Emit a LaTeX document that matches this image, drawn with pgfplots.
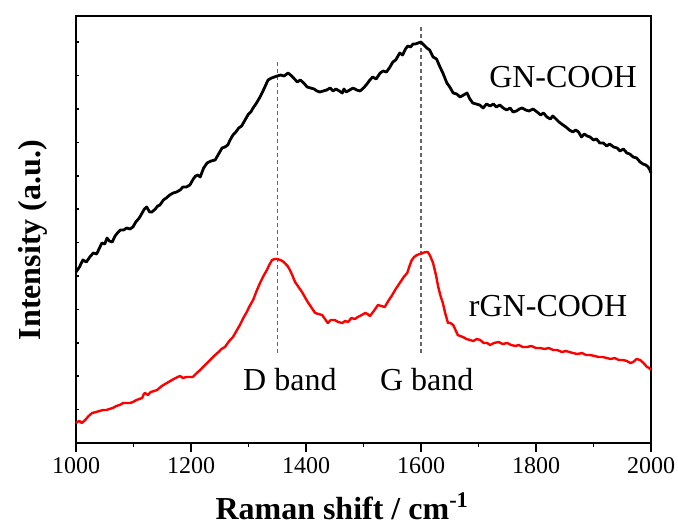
\documentclass[border=0pt]{standalone}
\usepackage{fontspec}
\setmainfont{Liberation Serif}
\usepackage{pgfplots}
\pgfplotsset{compat=1.18}

\begin{document}
\begin{tikzpicture}
\path[use as bounding box] (-38pt,-43pt) rectangle (301pt,221.5pt);
\begin{axis}[
  at={(0,0)}, anchor=south west,
  scale only axis, width=287.5pt, height=213.5pt,
  xmin=1000, xmax=2000, ymin=0, ymax=427,
  axis line style={line width=0.9pt},
  xtick={1000,1200,1400,1600,1800,2000},
  ytick=\empty,
  xtick pos=bottom, ytick pos=left,
  tick style={line width=0.8pt, black},
  xtick align=outside,
  major tick length=4.5pt,
  extra x ticks={1100,1300,1500,1700,1900},
  extra x tick labels={},
  extra x tick style={major tick length=2pt, xtick align=outside},
  extra y ticks={33.4,66.8,100.2,133.6,167,200.4,233.8,267.2,300.6,334,367.4,400.8},
  extra y tick labels={},
  extra y tick style={major tick length=1.4pt, ytick align=inside},
  /pgf/number format/assume math mode=true,
  /pgf/number format/1000 sep={},
  xticklabel style={font=\fontsize{12pt}{14pt}\selectfont, yshift=1pt},
  xlabel={Raman shift / cm\textsuperscript{-1}},
  xlabel style={font=\fontsize{16pt}{18pt}\selectfont\bfseries, at={(axis description cs:0.463,-0.180)}, anchor=base},
  ylabel={Intensity (a.u.)},
  ylabel style={font=\fontsize{16pt}{18pt}\selectfont\bfseries, at={(axis description cs:-0.075,0.475)}, anchor=center, rotate=0},
  clip=false,
]
% band positions
\addplot[gray!80!black, line width=0.6pt, dash pattern=on 2pt off 1.5pt] coordinates {(1350,381) (1350,88)};
\addplot[gray!80!black, line width=0.6pt, dash pattern=on 2pt off 1.5pt] coordinates {(1600,416) (1600,88)};

% GN-COOH
\addplot[black, line width=1.4pt, line join=round] coordinates {
(1000,171) (1006,176) (1012,183) (1018,181) (1024,186) (1030,190) (1036,189) (1040,194)
(1045,200) (1050,199) (1054,205) (1058,202) (1063,201) (1068,207) (1072,210) (1077,213)
(1083,213) (1088,215) (1094,214) (1099,216) (1104,221) (1110,225) (1115,230) (1119,234)
(1123,236) (1128,231) (1132,231) (1138,234) (1142,237) (1146,238) (1152,243) (1157,245)
(1163,248) (1169,250) (1175,251) (1181,253) (1186,256) (1192,256) (1198,258) (1204,264)
(1208,267) (1212,268) (1216,266) (1222,275) (1228,280) (1235,282) (1242,283) (1248,289)
(1254,295) (1259,296) (1264,298) (1268,303) (1273,308) (1278,311) (1283,315) (1288,317)
(1294,323) (1300,329) (1304,331) (1308,335) (1314,340) (1320,346) (1326,353) (1330,358)
(1334,363) (1340,365) (1345,366) (1350,367) (1356,368) (1362,367) (1369,370) (1375,367)
(1380,364) (1385,361) (1390,363) (1396,360) (1402,356) (1408,355) (1414,354) (1419,352)
(1424,351) (1430,352) (1436,353) (1442,355) (1447,352) (1452,354) (1458,352) (1463,350)
(1466,354) (1470,351) (1476,353) (1482,355) (1488,353) (1494,352) (1500,355) (1506,359)
(1511,363) (1516,366) (1522,364) (1529,370) (1534,372) (1540,371) (1546,376) (1551,381)
(1556,383) (1563,390) (1568,388) (1573,394) (1577,397) (1582,396) (1586,399) (1590,399)
(1595,400) (1600,401) (1605,398) (1610,395) (1615,393) (1621,386) (1627,384) (1633,376)
(1638,370) (1645,360) (1650,356) (1656,350) (1662,349) (1668,346) (1674,348) (1680,350)
(1685,344) (1690,340) (1696,339) (1702,338) (1708,335) (1714,339) (1720,337) (1726,339)
(1731,336) (1737,338) (1743,335) (1749,333) (1755,335) (1760,331) (1766,332) (1771,334)
(1776,335) (1782,333) (1788,332) (1795,334) (1802,331) (1808,328) (1813,330) (1819,326)
(1825,324) (1829,327) (1833,325) (1840,321) (1847,318) (1852,316) (1858,313) (1864,311)
(1869,313) (1874,311) (1879,306) (1884,309) (1889,307) (1894,306) (1900,303) (1905,304)
(1911,300) (1917,300) (1923,297) (1928,299) (1935,296) (1941,295) (1946,292) (1952,294)
(1958,290) (1963,289) (1969,286) (1975,285) (1981,281) (1986,279) (1991,278) (1995,276)
(1998,273) (2000,270)
};

% rGN-COOH
\addplot[red, line width=1.2pt, line join=round] coordinates {
(1000,20) (1002,21) (1006,22) (1010,20) (1016,23) (1022,27) (1028,30) (1035,31)
(1041,32) (1047,33) (1053,33) (1058,34) (1064,35) (1070,37) (1076,38) (1082,40)
(1088,40) (1094,40) (1099,41) (1105,43) (1110,44) (1115,45) (1118,49) (1120,50)
(1125,48) (1130,51) (1136,52) (1141,53) (1147,56) (1152,58) (1158,60) (1164,62)
(1170,64) (1177,66) (1181,67) (1186,65) (1192,66) (1198,66) (1203,66) (1210,70)
(1216,73) (1221,76) (1228,80) (1235,84) (1242,88) (1248,91) (1253,94) (1259,96)
(1264,100) (1268,103) (1273,106) (1279,112) (1285,118) (1291,125) (1297,131) (1302,137)
(1308,143) (1314,152) (1320,160) (1326,167) (1332,173) (1336,178) (1341,183) (1346,184)
(1350,184) (1355,183) (1359,182) (1363,180) (1368,177) (1372,173) (1376,168) (1381,161)
(1387,156) (1393,151) (1398,146) (1403,141) (1410,135) (1416,130) (1422,129) (1428,128)
(1433,124) (1438,120) (1443,123) (1450,123) (1456,121) (1463,120) (1468,122) (1473,121)
(1479,125) (1485,124) (1490,126) (1497,128) (1503,130) (1507,129) (1511,127) (1518,132)
(1525,138) (1531,137) (1537,136) (1543,142) (1550,148) (1556,154) (1563,160) (1570,166)
(1576,170) (1580,177) (1584,183) (1588,186) (1593,188) (1598,189) (1603,190) (1608,191)
(1612,191) (1616,187) (1621,180) (1626,168) (1630,156) (1634,147) (1638,140) (1642,130)
(1647,120) (1651,120) (1656,118) (1660,113) (1664,108) (1668,107) (1673,106) (1679,104)
(1685,103) (1691,102) (1697,104) (1703,103) (1709,100) (1715,100) (1720,98) (1727,100)
(1735,101) (1742,99) (1750,100) (1757,98) (1764,97) (1770,98) (1777,96) (1784,96)
(1792,97) (1800,95) (1807,95) (1815,94) (1822,95) (1830,93) (1837,93) (1845,91)
(1852,92) (1858,91) (1864,90) (1872,89) (1880,90) (1887,88) (1894,88) (1902,87)
(1909,86) (1916,86) (1923,85) (1930,84) (1937,85) (1944,83) (1951,83) (1958,82)
(1964,80) (1969,81) (1975,84) (1981,83) (1987,80) (1993,76) (1997,75) (2000,73)
};

% annotations
\node[font=\fontsize{16pt}{18pt}\selectfont] at (axis cs:1847,366) {GN-COOH};
\node[font=\fontsize{16pt}{18pt}\selectfont] at (axis cs:1821,137) {rGN-COOH};
\node[font=\fontsize{16pt}{18pt}\selectfont] at (axis cs:1372,63) {D band};
\node[font=\fontsize{16pt}{18pt}\selectfont] at (axis cs:1610,63) {G band};
\end{axis}
\end{tikzpicture}
\end{document}
